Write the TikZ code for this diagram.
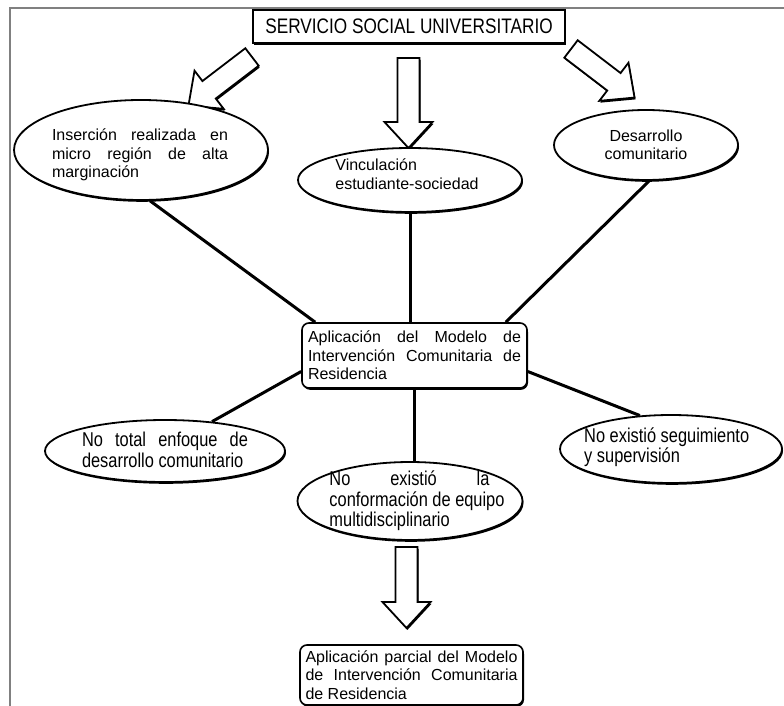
\documentclass[tikz,border=0pt]{standalone}
\usepackage{fontspec}
\setmainfont{Liberation Sans}
\newfontfamily\narrowfont[FakeStretch=0.82]{Liberation Sans}
\usetikzlibrary{shapes.geometric,shadows}

\newcommand{\spread}[2]{\makebox[#1pt][s]{#2}}

\begin{document}
\begin{tikzpicture}[
    x=1pt, y=-1pt,
    every node/.style={font=\fontsize{16}{18.5}\selectfont},
    hardshadow/.style={drop shadow={shadow xshift=1pt, shadow yshift=-1.8pt, opacity=1, fill=black}},
    titlebox/.style={draw, line width=1.6pt, fill=white, hardshadow, minimum width=312, minimum height=33, inner sep=2pt, font=\narrowfont\fontsize{21}{22}\selectfont},
    oval/.style={draw, ellipse, line width=1.8pt, fill=white, hardshadow, inner sep=0pt},
    rbox/.style={draw, rounded corners=7pt, line width=1.6pt, fill=white, hardshadow, inner sep=1pt, align=left},
    txt/.style={align=left, inner sep=0pt},
    narrowtxt/.style={align=left, inner sep=0pt, font=\narrowfont\fontsize{20}{20.5}\selectfont},
    link/.style={line width=3pt},
    frame/.style={gray, line width=1.5pt},
    fatarrow/.pic={\draw[line width=1.8pt, fill=white, line join=miter, hardshadow]
        (0,-11) -- (#1-26,-11) -- (#1-26,-24) -- (#1,0) -- (#1-26,24) -- (#1-26,11) -- (0,11) -- cycle;}
]
\useasboundingbox (0,0) rectangle (784,706);
\draw[frame] (9,8) -- (784,8);
\draw[frame] (10,8) -- (10,706);

% Title
\node[titlebox] (title) at (409,26.5) {SERVICIO SOCIAL UNIVERSITARIO};

% Block arrows from the title
\pic[rotate=217.4] (arrleft) at (252,57) {fatarrow=80};
\pic[rotate=-90] (arrmid) at (408.5,58) {fatarrow=90};
\pic[rotate=-37.4] (arrright) at (571,49) {fatarrow=80};

% Upper ellipses
\node[oval, minimum width=254, minimum height=100] (e1) at (141,150) {};
\node[txt] (e1t) at (140,155) {\spread{176}{Inserción realizada en}\\\spread{176}{micro región de alta}\\marginación};
\node[oval, minimum width=224, minimum height=64] (e2) at (410,180) {};
\node[txt] (e2t) at (407,174) {Vinculación\\estudiante-sociedad};
\node[oval, minimum width=184, minimum height=70] (e3) at (646,145) {};
\node[txt, align=center] (e3t) at (646,145) {Desarrollo\\comunitario};

% Central box
\node[rbox, minimum width=225, minimum height=65] (box) at (414.5,355.5) {\spread{213}{Aplicación del Modelo de}\\\spread{213}{Intervención Comunitaria de}\\Residencia};

% Lower ellipses
\node[oval, minimum width=240, minimum height=62] (e4) at (165,451) {};
\node[narrowtxt] (e4t) at (165,450) {\spread{166}{No total enfoque de}\\desarrollo comunitario};
\node[oval, minimum width=225, minimum height=78] (e5) at (410,501) {};
\node[narrowtxt] (e5t) at (417,501) {\spread{160}{No existió la}\\conformación de equipo\\multidisciplinario};
\node[oval, minimum width=222, minimum height=68] (e6) at (671,449) {};
\node[narrowtxt, anchor=west] (e6t) at (584,447) {No existió seguimiento\\y supervisión};

% Connectors
\draw[link] (e1.-80) -- ([xshift=14pt]box.north west);
\draw[link] (e2.south) -- (e2.south |- box.north);
\draw[link] (e3.-85) -- ([xshift=-22pt]box.north east);
\draw[link] ([yshift=-16pt]box.west) -- (e4.32);
\draw[link] (box.south) -- (box.south |- e5.north);
\draw[link] ([yshift=-16pt]box.east) -- (e6.133);

% Result
\pic[rotate=-90] (arrdown) at (406.5,547) {fatarrow=81};
\node[rbox, minimum width=223, minimum height=60] (result) at (411.5,675) {\spread{212}{Aplicación parcial del Modelo}\\\spread{212}{de Intervención Comunitaria}\\de Residencia};
\end{tikzpicture}
\end{document}
